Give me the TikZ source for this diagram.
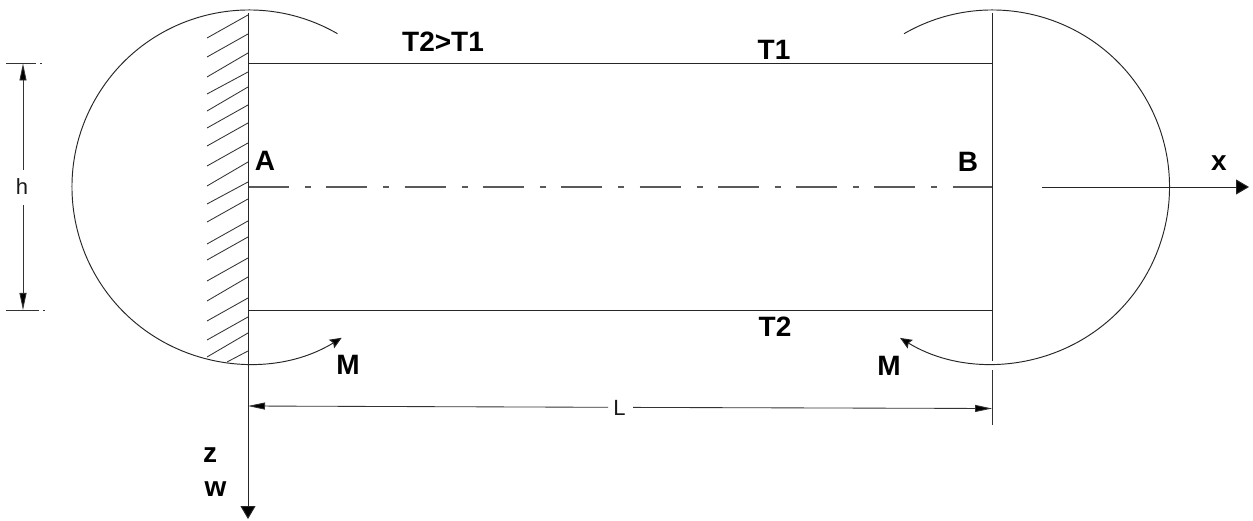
\documentclass[tikz,border=0pt]{standalone}
\usepackage{fontspec}
\setmainfont{Liberation Sans}
\usetikzlibrary{arrows.meta}
\tikzset{
  x=1pt,y=1pt,
  ln/.style={line width=0.95pt,draw=black!85},
  thinln/.style={line width=0.85pt,draw=black!80},
  bold/.style={font=\fontsize{28}{28}\selectfont\bfseries,inner sep=0pt,text=black},
  reg/.style={font=\fontsize{22}{22}\selectfont,inner sep=0pt,text=black!90},
  axtip/.style={-{Triangle[length=13pt,width=15pt,fill=black]}},
  endtip/.style={-{Triangle[length=17pt,width=7pt,fill=black]}},
  momtip/.style={-{Stealth[length=12pt,width=10pt,inset=2pt,fill=black]}},
  center line/.style={line width=1.2pt,draw=black!65,dash pattern=on 41pt off 16pt on 6pt off 15.3pt},
}
\begin{document}
\begin{tikzpicture}
\useasboundingbox[fill=white] (0,0) rectangle (1253,520);
% key points
\coordinate (cL) at (249,333);
\coordinate (cR) at (992.5,333);
\coordinate (TL) at (248,456.5);
\coordinate (TR) at (992,456.5);
\coordinate (BL) at (248,210);
\coordinate (BR) at (992,210);
\coordinate (A0) at (248,333);
\coordinate (B0) at (992,333);
\coordinate (wallTop) at (248,507);
\coordinate (zEnd) at (248,1);
\coordinate (rTop) at (992,507);
\coordinate (rGapA) at (992,159);
\coordinate (rGapB) at (992,150);
\coordinate (rEnd) at (992,95);
\coordinate (xStart) at (1042,333);
\coordinate (xEnd) at (1249,333);
\coordinate (hT) at (23,456.5);
\coordinate (hB) at (23,210);
\coordinate (hT1) at (6,456.5);
\coordinate (hT2) at (36,456.5);
\coordinate (hT3) at (40,456.5);
\coordinate (hT4) at (42,456.5);
\coordinate (hB1) at (6,210);
\coordinate (hB2) at (39,210);
\coordinate (hB3) at (43,210);
\coordinate (hB4) at (45,210);
\coordinate (hGapT) at (23,350);
\coordinate (hGapB) at (23,315);
\coordinate (LA) at (248,114);
\coordinate (LB) at (992,111.5);
\coordinate (LGapA) at (608,112.7);
\coordinate (LGapB) at (633,112.6);
% hatching
\foreach \yl/\yr in {482/505,463/486,443/467,426/448,409/433,392/415,374/397,354/377,334/358,316/338,298/321,276/299,260/283,239/262,219/243,199/222,180/203,163/187}{
  \draw[thinln] (207,\yl) -- (248,\yr);
}
\coordinate (hatchA) at (227,158);
\coordinate (hatchB) at (248,169);
\draw[thinln] (hatchA) -- (hatchB);
% beam
\draw[ln] (rTop) -- (rGapA);
\draw[thinln] (rGapB) -- (rEnd);
\draw[ln] (TL) -- (TR);
\draw[ln] (BL) -- (BR);
\draw[center line] (A0) -- (B0);
% axes
\draw[ln,axtip] (wallTop) -- (zEnd);
\draw[ln,axtip] (xStart) -- (xEnd);
% moments
\draw[ln,momtip] ([shift={(60:177)}]cL) arc[start angle=60,end angle=301.6,radius=177];
\draw[ln,momtip] ([shift={(120:177)}]cR) arc[start angle=120,end angle=-121.5,radius=177];
% h dimension
\node[reg] (h) at (22,333) {h};
\draw[thinln] (hT1) -- (hT2);
\draw[thinln] (hT3) -- (hT4);
\draw[thinln] (hB1) -- (hB2);
\draw[thinln] (hB3) -- (hB4);
\draw[thinln,endtip] (hGapT) -- (hT);
\draw[thinln,endtip] (hGapB) -- (hB);
% L dimension
\node[reg] (L) at (619.5,112.5) {L};
\draw[thinln,endtip] (LGapA) -- (LA);
\draw[thinln,endtip] (LGapB) -- (LB);
% labels
\node[bold] (tt) at (443,478) {T2>T1};
\node[bold] (t1) at (774,470) {T1};
\node[bold] (t2) at (775,193) {T2};
\node[bold] (a) at (265,359) {A};
\node[bold] (b) at (968,358.5) {B};
\node[bold] (x) at (1219,356.5) {x};
\node[bold] (m1) at (348,155.5) {M};
\node[bold] (m2) at (889,154) {M};
\node[bold] (z) at (210,65) {z};
\node[bold] (w) at (215.5,31) {w};
\end{tikzpicture}
\end{document}
